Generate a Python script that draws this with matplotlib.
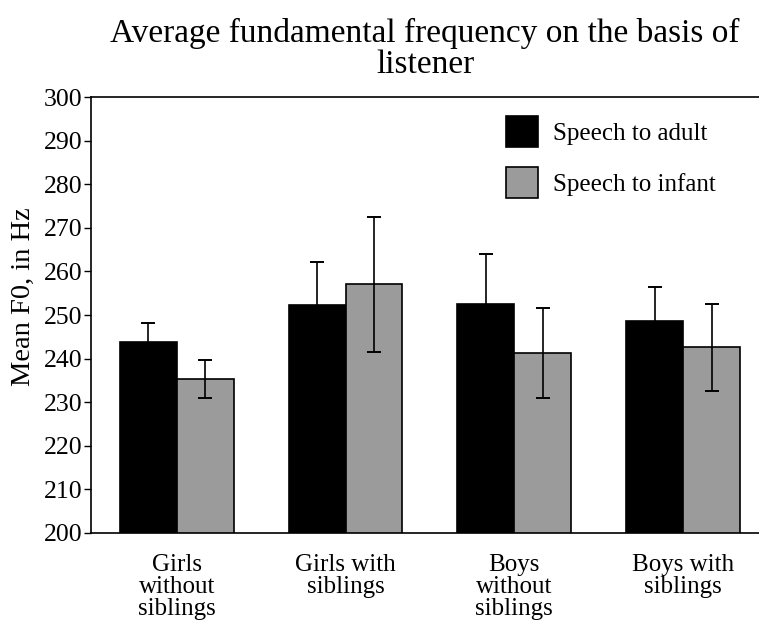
import matplotlib
matplotlib.use("Agg")
import matplotlib.pyplot as plt
import numpy as np

categories = ["Girls\nwithout\nsiblings", "Girls with\nsiblings", "Boys\nwithout\nsiblings", "Boys with\nsiblings"]
adult_mean = [243.7, 252.4, 252.6, 248.7]
adult_err = [4.5, 9.8, 11.5, 7.8]
infant_mean = [235.3, 257.0, 241.3, 242.6]
infant_err = [4.45, 15.5, 10.35, 9.95]
yticks = list(range(200, 301, 10))

plt.rcParams['font.family'] = ['Liberation Serif', 'DejaVu Serif']

fig = plt.figure(figsize=(7.59, 6.23), dpi=100)
ax = fig.add_axes([91/759, 1-533/623, (759-91)/759, (533-97)/623])

x = np.arange(len(categories))
w = 0.337
ax.bar(x - w/2, adult_mean, w, color='black', edgecolor='black', linewidth=1.2,
       label='Speech to adult', zorder=2)
ax.bar(x + w/2, infant_mean, w, color='#9b9b9b', edgecolor='black', linewidth=1.2,
       label='Speech to infant', zorder=2)
ax.errorbar(x - w/2, adult_mean, yerr=adult_err, fmt='none', ecolor='black',
            elinewidth=1.2, capsize=5, capthick=1.4, zorder=3)
ax.errorbar(x + w/2, infant_mean, yerr=infant_err, fmt='none', ecolor='black',
            elinewidth=1.2, capsize=5, capthick=1.4, zorder=3)

ax.set_ylim(200, 300)
ax.set_xlim(-0.509, 3.45)
ax.set_yticks(yticks)
ax.set_xticks(x)
ax.set_xticklabels(categories, fontsize=18, linespacing=1.0)
ax.tick_params(axis='y', labelsize=18.5, length=5, width=1, direction='out', pad=1)
ax.tick_params(axis='x', length=0, pad=15)
ax.spines['right'].set_visible(False)
for s in ['left', 'top', 'bottom']:
    ax.spines[s].set_linewidth(1.2)

ax.set_ylabel('Mean F0, in Hz', fontsize=20.5)
ax.yaxis.set_label_coords(-0.082, 0.541)
ax.set_title('Average fundamental frequency on the basis of\nlistener', fontsize=24,
             linespacing=1.02, pad=17)

leg = ax.legend(loc='upper right', bbox_to_anchor=(0.936, 0.956), frameon=False, fontsize=18,
                handlelength=1.3, handleheight=1.5, labelspacing=0.82, handletextpad=0.6,
                borderpad=0, borderaxespad=0)

fig.savefig('out.png', dpi=100)
